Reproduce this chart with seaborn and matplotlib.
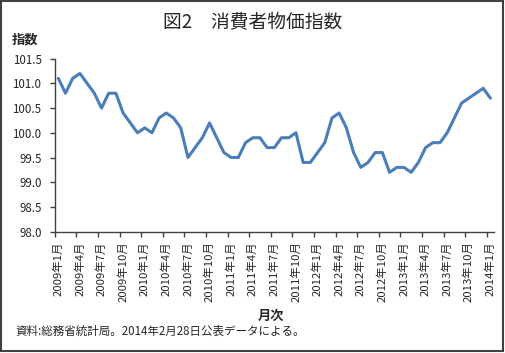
import matplotlib
matplotlib.use("Agg")
import matplotlib.pyplot as plt
from matplotlib.patches import Rectangle
import seaborn as sns
import pandas as pd
import numpy as np

# ---- data ----
cpi = [101.1, 100.8, 101.1, 101.2, 101.0, 100.8, 100.5, 100.8, 100.8, 100.4, 100.2, 100.0,
       100.1, 100.0, 100.3, 100.4, 100.3, 100.1, 99.5, 99.7, 99.9, 100.2, 99.9, 99.6,
       99.5, 99.5, 99.8, 99.9, 99.9, 99.7, 99.7, 99.9, 99.9, 100.0, 99.4, 99.4,
       99.6, 99.8, 100.3, 100.4, 100.1, 99.6, 99.3, 99.4, 99.6, 99.6, 99.2, 99.3,
       99.3, 99.2, 99.4, 99.7, 99.8, 99.8, 100.0, 100.3, 100.6, 100.7, 100.8, 100.9,
       100.7]
tick_labels = ["2009年1月", "2009年4月", "2009年7月", "2009年10月",
               "2010年1月", "2010年4月", "2010年7月", "2010年10月",
               "2011年1月", "2011年4月", "2011年7月", "2011年10月",
               "2012年1月", "2012年4月", "2012年7月", "2012年10月",
               "2013年1月", "2013年4月", "2013年7月", "2013年10月",
               "2014年1月"]
y_ticks = [98.0, 98.5, 99.0, 99.5, 100.0, 100.5, 101.0, 101.5]
title = "図2　消費者物価指数"
ylabel = "指数"
xlabel = "月次"
note = "資料:総務省統計局。2014年2月28日公表データによる。"

df = pd.DataFrame({"idx": np.arange(len(cpi)), "cpi": cpi})

sns.set_style("ticks")
plt.rcParams['font.family'] = ['Noto Sans CJK JP', 'DejaVu Sans']

W, H = 506, 353
fig = plt.figure(figsize=(W / 100, H / 100), dpi=100)
ax = fig.add_axes([54.7 / W, (H - 231.7) / H, (494 - 54.7) / W, (231.7 - 58.6) / H])

sns.lineplot(data=df, x="idx", y="cpi", ax=ax, color="#4A7EBB", linewidth=2.2)

ax.set_xlim(-0.5, len(cpi) - 0.5)
ax.set_ylim(98.0, 101.5)
ax.set_yticks(y_ticks)
ax.set_yticklabels([f"{v:.1f}" for v in y_ticks], fontsize=8.3)

# tick marks between categories every 3 months, labels on categories
ax.set_xticks(np.arange(-0.5, len(cpi) - 1, 3))
ax.set_xticklabels([])
ax.set_xticks(np.arange(0, len(cpi), 3), minor=True)
ax.set_xticklabels(tick_labels, minor=True, rotation=90, fontsize=8.2)
ax.tick_params(axis="x", which="major", length=3.5, width=1, color="#404040", direction="out")
ax.tick_params(axis="x", which="minor", length=0, pad=7)
ax.tick_params(axis="y", length=3.5, width=1, color="#404040", direction="out", pad=6)

ax.set_xlabel("")
ax.set_ylabel("")
for s in ["top", "right"]:
    ax.spines[s].set_visible(False)
for s in ["left", "bottom"]:
    ax.spines[s].set_color("#404040")
    ax.spines[s].set_linewidth(1)

fig.text(253 / W, 1 - 23 / H, title, ha="center", va="center", fontsize=13.5)
fig.text(12 / W, 1 - 40 / H, ylabel, ha="left", va="center", fontsize=9.5, fontweight="bold")
fig.text(271 / W, 1 - 316 / H, xlabel, ha="center", va="center", fontsize=9.5, fontweight="bold")
fig.text(15 / W, 1 - 331 / H, note, ha="left", va="center", fontsize=8.3)

fig.add_artist(Rectangle((1 / W, 2.5 / H), 502.5 / W, 349.5 / H, transform=fig.transFigure,
                         fill=False, edgecolor="#404040", linewidth=1.5))

fig.savefig("out.png", dpi=100)
